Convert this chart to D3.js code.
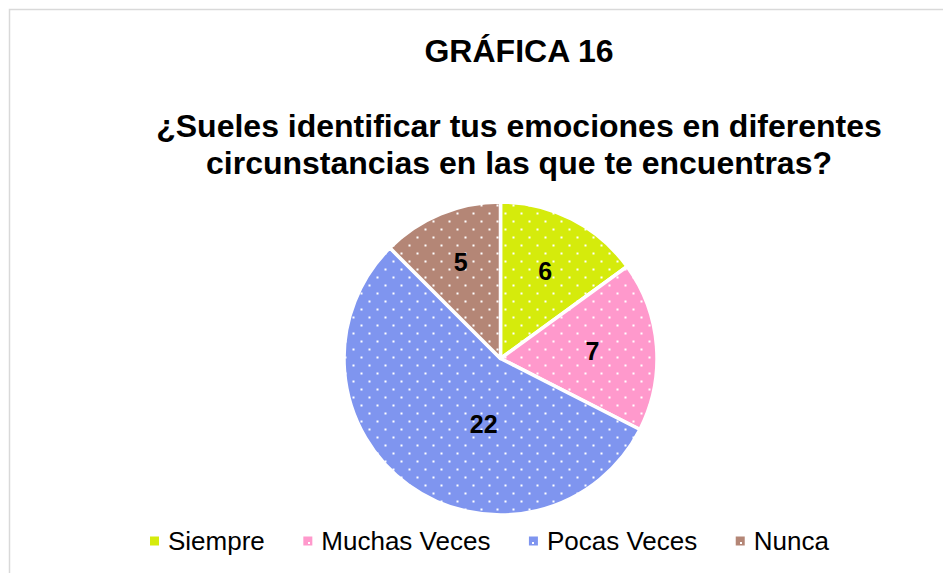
<!DOCTYPE html>
<html>
<head>
<meta charset="utf-8">
<script src="https://cdn.jsdelivr.net/npm/d3@7/dist/d3.min.js"></script>
<style>
  html, body { margin: 0; padding: 0; background: #fff; }
  svg { display: block; font-family: "Liberation Sans", Arial, sans-serif; }
</style>
</head>
<body>
<svg id="chart" width="943" height="573"></svg>
<script>
// ---- data ----
const categories = ["Siempre", "Muchas Veces", "Pocas Veces", "Nunca"];
const values = [6, 7, 22, 5];
const colors = ["#D5EB0C", "#FF99CC", "#7F95EF", "#B48676"];
const titleText = "GRÁFICA 16";
const subtitleLines = ["¿Sueles identificar tus emociones en diferentes", "circunstancias en las que te encuentras?"];

// ---- layout ----
const W = 943, H = 573;
const cx = 500.5, cy = 358.5, R = 156.5;
// label placement (polar: fraction of radius, angle shift in degrees) per slice
const labelPlacement = [
  { r: 0.63, shift: 0 },
  { r: 0.59, shift: 0 },
  { r: 0.43, shift: -21.5 },
  { r: 0.665, shift: 0 }
];

const svg = d3.select("#chart");

// chart frame
svg.append("rect")
  .attr("x", 9.5).attr("y", 9.5)
  .attr("width", 1000).attr("height", 1000)
  .attr("fill", "#fff")
  .attr("stroke", "#d9d9d9").attr("stroke-width", 1.5);

// patterns: colour + white dots
const defs = svg.append("defs");
colors.forEach((c, i) => {
  const p = defs.append("pattern")
    .attr("id", "pat" + i)
    .attr("patternUnits", "userSpaceOnUse")
    .attr("width", 16).attr("height", 16);
  p.append("rect").attr("width", 16).attr("height", 16).attr("fill", c);
  p.append("rect").attr("x", 12).attr("y", 6).attr("width", 2).attr("height", 2).attr("fill", "#fff");
  p.append("rect").attr("x", 4).attr("y", 14).attr("width", 2).attr("height", 2).attr("fill", "#fff");
});

// titles
svg.append("text")
  .attr("x", 519).attr("y", 62)
  .attr("text-anchor", "middle")
  .attr("font-weight", "bold").attr("font-size", 32)
  .attr("fill", "#000")
  .text(titleText);

svg.append("g").selectAll("text")
  .data(subtitleLines)
  .join("text")
  .attr("x", 519)
  .attr("y", (d, i) => 137 + i * 37)
  .attr("text-anchor", "middle")
  .attr("font-weight", "bold").attr("font-size", 32)
  .attr("fill", "#000")
  .text(d => d);

// pie
const pie = d3.pie().sort(null).value(d => d)(values);
const arc = d3.arc().innerRadius(0).outerRadius(R);

const g = svg.append("g");
g.selectAll("path")
  .data(pie)
  .join("path")
  .attr("transform", `translate(${cx},${cy})`)
  .attr("d", arc)
  .attr("fill", (d, i) => `url(#pat${i})`)
  .attr("stroke", "#fff")
  .attr("stroke-width", 3.5)
  .attr("stroke-linejoin", "round");

// labels
g.selectAll("text.lbl")
  .data(pie)
  .join("text")
  .attr("class", "lbl")
  .attr("x", (d, i) => {
    const a = (d.startAngle + d.endAngle) / 2 + labelPlacement[i].shift * Math.PI / 180;
    return cx + Math.sin(a) * R * labelPlacement[i].r;
  })
  .attr("y", (d, i) => {
    const a = (d.startAngle + d.endAngle) / 2 + labelPlacement[i].shift * Math.PI / 180;
    return cy - Math.cos(a) * R * labelPlacement[i].r;
  })
  .attr("dy", "0.36em")
  .attr("text-anchor", "middle")
  .attr("font-weight", "bold").attr("font-size", 25)
  .attr("fill", "#000")
  .text(d => d.data);

// legend
const legend = svg.append("g");
let lx = 150;
const ly = 541;
categories.forEach((name, i) => {
  legend.append("rect")
    .attr("x", lx).attr("y", ly - 4.5)
    .attr("width", 9).attr("height", 9)
    .attr("fill", `url(#pat${i})`);
  const t = legend.append("text")
    .attr("x", lx + 18).attr("y", ly)
    .attr("dy", "0.36em")
    .attr("font-size", 26)
    .attr("fill", "#000")
    .text(name);
  lx += 18 + t.node().getComputedTextLength() + 38.5;
});
</script>
</body>
</html>
